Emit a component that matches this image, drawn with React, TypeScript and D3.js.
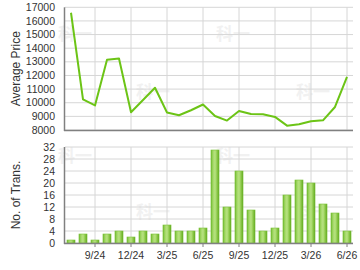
import React from "react";
import * as d3 from "d3";

const months = [
  "7/24","8/24","9/24","10/24","11/24","12/24","1/25","2/25","3/25","4/25","5/25","6/25",
  "7/25","8/25","9/25","10/25","11/25","12/25","1/26","2/26","3/26","4/26","5/26","6/26",
];
const avgPrice = [
  16600,10250,9800,13150,13250,9300,10200,11100,9280,9080,9450,9870,
  9030,8690,9400,9170,9150,8960,8320,8420,8640,8710,9690,11900,
];
const transactions = [1,3,1,3,4,2,4,3,6,4,4,5,31,12,24,11,4,5,16,21,20,13,10,4];
const tickMonths = ["9/24","12/24","3/25","6/25","9/25","12/25","3/26","6/26"];
const priceTicks = [8000,9000,10000,11000,12000,13000,14000,15000,16000,17000];
const transTicks = [0,4,8,12,16,20,24,28,32];

const W = 360, H = 270;
const left = 65, right = 353;
const font = "Liberation Sans, Arial, sans-serif";

export default function App() {
  const x = d3.scaleBand<string>().domain(months).range([left, right]).paddingInner(0.33).paddingOuter(0.165);
  const cx = (m: string) => (x(m) as number) + x.bandwidth() / 2;
  const yP = d3.scaleLinear().domain([8000, 17000]).range([130, 7.3]);
  const yT = d3.scaleLinear().domain([0, 32]).range([243, 147]);
  const line = d3.line<number>().x((_, i) => cx(months[i])).y((d) => yP(d));
  const grid = "#d6d6d6";
  const axisC = "#808080";
  return (
    <svg width={W} height={H} style={{ position: "absolute", left: 0, top: 0, background: "#fff" }}>
      <defs>
        <linearGradient id="barg" x1="0" x2="1" y1="0" y2="0">
          <stop offset="0%" stopColor="#6cb82a" />
          <stop offset="25%" stopColor="#a3d866" />
          <stop offset="50%" stopColor="#b8e282" />
          <stop offset="75%" stopColor="#8fcb4c" />
          <stop offset="100%" stopColor="#5ea61c" />
        </linearGradient>
      </defs>
      {/* watermarks */}
      {[[58, 40], [136, 98], [216, 40], [296, 98], [58, 162], [136, 218], [216, 162], [296, 218]].map(([a, b], i) => (
        <text key={"wm" + i} x={a} y={b} fontSize={17} fontWeight="bold" fill="#f1f1f1"
          fontFamily="Noto Sans CJK SC, sans-serif">科一</text>
      ))}
      {/* top grid */}
      {priceTicks.map((t) => (
        <line key={"pg" + t} x1={left} x2={right} y1={yP(t)} y2={yP(t)} stroke={grid} strokeWidth={1} />
      ))}
      {tickMonths.map((m) => (
        <line key={"pv" + m} x1={cx(m)} x2={cx(m)} y1={yP(17000)} y2={yP(8000)} stroke={grid} strokeWidth={1} />
      ))}
      {/* bottom grid */}
      {transTicks.map((t) => (
        <line key={"tg" + t} x1={left} x2={right} y1={yT(t)} y2={yT(t)} stroke={grid} strokeWidth={1} />
      ))}
      {tickMonths.map((m) => (
        <line key={"tv" + m} x1={cx(m)} x2={cx(m)} y1={yT(32)} y2={yT(0)} stroke={grid} strokeWidth={1} />
      ))}
      {/* line */}
      <path d={line(avgPrice) || ""} fill="none" stroke="#6cc416" strokeWidth={2} strokeLinejoin="round" />
      {/* bars */}
      {transactions.map((v, i) => (
        <rect key={"b" + i} x={x(months[i])} y={yT(v)} width={x.bandwidth()} height={yT(0) - yT(v)}
          fill="url(#barg)" stroke="#7cc23a" strokeWidth={0.6} />
      ))}
      {/* axes */}
      <line x1={left - 0.5} x2={left - 0.5} y1={yP(17000)} y2={yP(8000) + 1} stroke={axisC} strokeWidth={1.5} />
      <line x1={left - 1} x2={right} y1={yP(8000) + 0.5} y2={yP(8000) + 0.5} stroke={axisC} strokeWidth={1.5} />
      <line x1={left - 0.5} x2={left - 0.5} y1={yT(32)} y2={yT(0) + 1} stroke={axisC} strokeWidth={1.5} />
      <line x1={left - 1} x2={right} y1={yT(0) + 0.5} y2={yT(0) + 0.5} stroke={axisC} strokeWidth={1.5} />
      {tickMonths.map((m) => (
        <line key={"tk" + m} x1={cx(m)} x2={cx(m)} y1={yT(0)} y2={yT(0) + 4} stroke={axisC} strokeWidth={1} />
      ))}
      {/* tick labels */}
      {priceTicks.map((t) => (
        <text key={"pl" + t} x={55} y={yP(t) + 3.6} textAnchor="end" fontSize={10.5} fontFamily={font} fill="#333">{t}</text>
      ))}
      {transTicks.map((t) => (
        <text key={"tl" + t} x={55} y={yT(t) + 3.6} textAnchor="end" fontSize={10.5} fontFamily={font} fill="#333">{t}</text>
      ))}
      {tickMonths.map((m) => (
        <text key={"xl" + m} x={cx(m)} y={259} textAnchor="middle" fontSize={10.5} fontFamily={font} fill="#333">{m}</text>
      ))}
      {/* axis titles */}
      <text transform={`translate(19.5,${(yP(17000) + yP(8000)) / 2}) rotate(-90)`} textAnchor="middle"
        fontSize={12} fontFamily={font} fill="#333">Average Price</text>
      <text transform={`translate(19.5,${(yT(32) + yT(0)) / 2}) rotate(-90)`} textAnchor="middle"
        fontSize={12} fontFamily={font} fill="#333">No. of Trans.</text>
    </svg>
  );
}
